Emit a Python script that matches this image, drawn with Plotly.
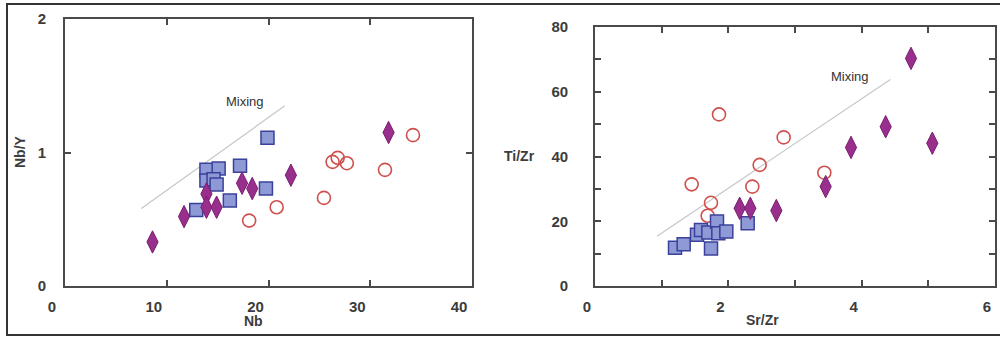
import plotly.graph_objects as go

# ---------------- Data: left panel (Nb vs Nb/Y) ----------------
left_diamond_nb = [8.6, 11.7, 13.9, 13.9, 14.9, 17.4, 18.4, 22.2, 31.8]
left_diamond_nby = [0.33, 0.52, 0.69, 0.59, 0.59, 0.77, 0.73, 0.83, 1.15]

left_square_nb = [19.9, 13.9, 15.1, 17.2, 13.9, 14.6, 14.9, 16.2, 12.9, 19.75]
left_square_nby = [1.11, 0.87, 0.88, 0.90, 0.79, 0.80, 0.76, 0.64, 0.57, 0.73]

left_circle_nb = [18.1, 20.8, 25.45, 26.3, 26.8, 27.7, 31.45, 34.2]
left_circle_nby = [0.49, 0.59, 0.66, 0.93, 0.96, 0.92, 0.87, 1.13]

left_mix_nb = [7.5, 21.6]
left_mix_nby = [0.58, 1.35]

# ---------------- Data: right panel (Sr/Zr vs Ti/Zr) ----------------
right_diamond_srzr = [2.17, 2.33, 2.72, 3.46, 3.84, 4.36, 4.74, 5.06]
right_diamond_tizr = [24.0, 24.0, 23.3, 30.7, 42.8, 49.2, 70.3, 44.1]

right_square_srzr = [1.20, 1.33, 1.53, 1.59, 1.70, 1.83, 1.85, 1.97, 1.74, 2.29]
right_square_tizr = [11.8, 12.9, 15.8, 17.3, 16.5, 19.9, 16.3, 16.8, 11.6, 19.4]

right_circle_srzr = [1.45, 1.69, 1.74, 1.86, 2.36, 2.47, 2.83, 3.44]
right_circle_tizr = [31.4, 21.7, 25.7, 53.0, 30.7, 37.4, 45.9, 35.0]

right_mix_srzr = [0.93, 4.43]
right_mix_tizr = [15.4, 63.8]

left_xticks = [0, 10, 20, 30, 40]
left_yticks = [0, 1, 2]
right_xticks = [0, 1, 2, 3, 4, 5, 6]
right_xticktext = ["0", "", "2", "", "4", "", "6"]
right_yticks = [0, 10, 20, 30, 40, 50, 60, 70, 80]
right_yticktext = ["0", "", "20", "", "40", "", "60", "", "80"]

# ---------------- Styles ----------------
DIA = dict(symbol="diamond-tall", size=16, color="#982f8c",
           line=dict(color="#7a1f70", width=1))
SQ = dict(symbol="square", size=13, color="#8e9ad6",
          line=dict(color="#3b409a", width=1.5))
CIR = dict(symbol="circle-open", size=13, color="#cf4f4c",
           line=dict(color="#cf4f4c", width=1.6))
MIXLINE = dict(color="#c4c8c6", width=1.2)

fig = go.Figure()

def add_panel(xa, ya, mx, my, cx, cy, sx, sy, dx, dy):
    fig.add_trace(go.Scatter(x=mx, y=my, mode="lines", line=MIXLINE,
                             xaxis=xa, yaxis=ya, showlegend=False, hoverinfo="skip"))
    fig.add_trace(go.Scatter(x=cx, y=cy, mode="markers", marker=CIR,
                             xaxis=xa, yaxis=ya, showlegend=False))
    fig.add_trace(go.Scatter(x=sx, y=sy, mode="markers", marker=SQ,
                             xaxis=xa, yaxis=ya, showlegend=False))
    fig.add_trace(go.Scatter(x=dx, y=dy, mode="markers", marker=DIA,
                             xaxis=xa, yaxis=ya, showlegend=False))

add_panel("x", "y", left_mix_nb, left_mix_nby, left_circle_nb, left_circle_nby,
          left_square_nb, left_square_nby, left_diamond_nb, left_diamond_nby)
add_panel("x2", "y2", right_mix_srzr, right_mix_tizr, right_circle_srzr, right_circle_tizr,
          right_square_srzr, right_square_tizr, right_diamond_srzr, right_diamond_tizr)

W, H = 1000, 337
def px_x(p):
    return p / W
def px_y(p):
    return 1 - p / H

TICKFONT = dict(family="Liberation Sans, Arial, sans-serif", size=15, color="#3c3c3c", weight="bold")
AX = dict(showline=True, linecolor="#4a4a4a", linewidth=1.6, mirror="ticks",
          ticks="inside", ticklen=6, tickwidth=1.6, tickcolor="#4a4a4a",
          showgrid=False, zeroline=False, tickfont=TICKFONT, fixedrange=True,
          automargin=False)

fig.update_layout(
    width=W, height=H, autosize=False,
    margin=dict(l=0, r=0, t=0, b=0, pad=0, autoexpand=False),
    showlegend=False,
    paper_bgcolor="white", plot_bgcolor="white",
    xaxis=dict(AX, domain=[px_x(65), px_x(472)], range=[0, 40], anchor="y",
               tickmode="array", tickvals=left_xticks, ticklabelshift=-13,
               ticklabelstandoff=6),
    yaxis=dict(AX, domain=[px_y(286), px_y(19)], range=[0, 2], anchor="x",
               tickmode="array", tickvals=left_yticks, ticklabelstandoff=14),
    xaxis2=dict(AX, domain=[px_x(595), px_x(995)], range=[0, 6], anchor="y2",
                tickmode="array", tickvals=right_xticks, ticktext=right_xticktext,
                ticklabelshift=-8, ticklabelstandoff=6),
    yaxis2=dict(AX, domain=[px_y(286), px_y(27)], range=[0, 80], anchor="x2",
                tickmode="array", tickvals=right_yticks, ticktext=right_yticktext,
                ticklabelstandoff=22),
)

TITLEFONT = dict(family="Liberation Sans, Arial, sans-serif", size=14, color="#3c3c3c", weight="bold")
MIXFONT = dict(family="Liberation Sans, Arial, sans-serif", size=13, color="#333333")

annotations = [
    dict(text="Nb/Y", x=px_x(20), y=px_y(152), textangle=-90, font=TITLEFONT),
    dict(text="Nb", x=px_x(253), y=px_y(321), font=TITLEFONT),
    dict(text="Ti/Zr", x=px_x(519), y=px_y(156), font=TITLEFONT),
    dict(text="Sr/Zr", x=px_x(762), y=px_y(320), font=TITLEFONT),
]
for a in annotations:
    fig.add_annotation(xref="paper", yref="paper", showarrow=False,
                       xanchor="center", yanchor="middle", **a)

fig.add_annotation(x=17.7, y=1.38, xref="x", yref="y", text="Mixing", showarrow=False,
                   font=MIXFONT, xanchor="center", yanchor="middle")
fig.add_annotation(x=3.83, y=64.8, xref="x2", yref="y2", text="Mixing", showarrow=False,
                   font=MIXFONT, xanchor="center", yanchor="middle")

# outer frame of the figure
fig.add_shape(type="rect", xref="paper", yref="paper",
              x0=px_x(7), x1=px_x(1006), y0=px_y(335), y1=px_y(4),
              line=dict(color="#333333", width=2), fillcolor="rgba(0,0,0,0)", layer="below")

fig.write_html("out.html", config={"displayModeBar": False},
               post_script="document.body.style.margin='0';")
